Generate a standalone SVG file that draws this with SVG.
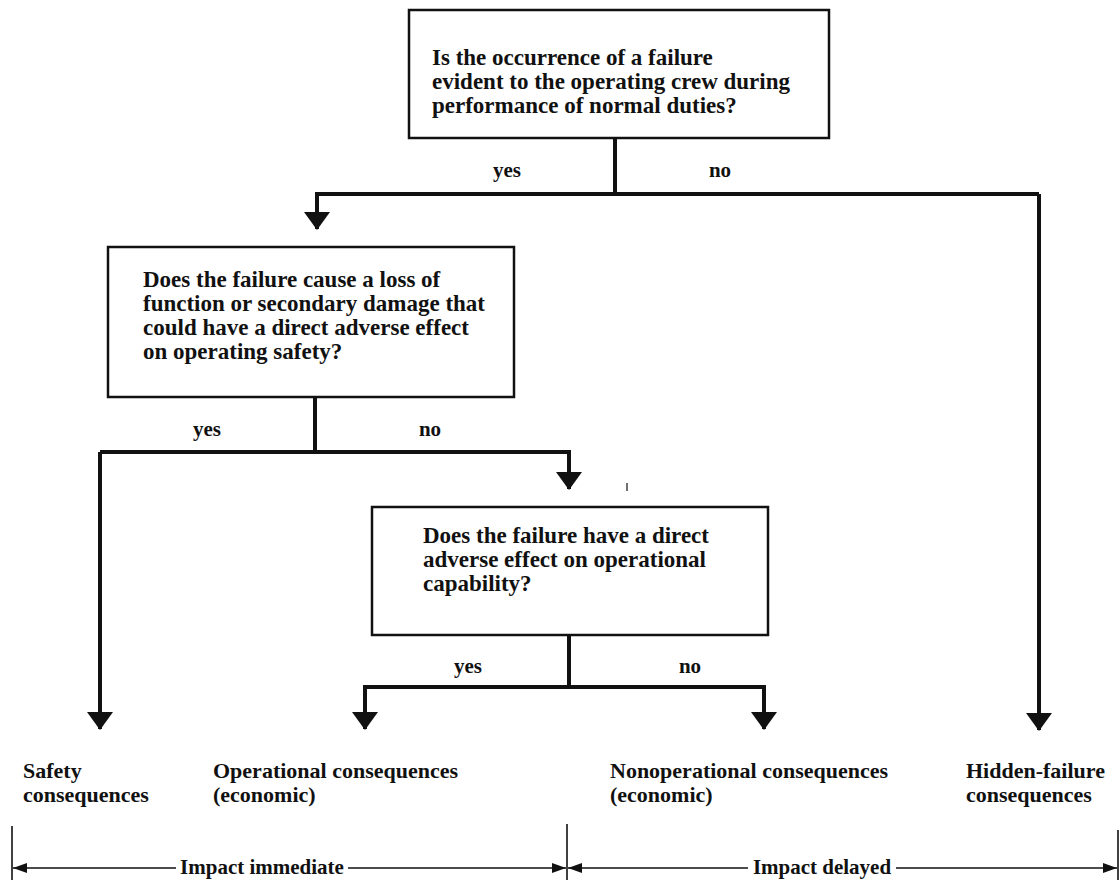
<svg xmlns="http://www.w3.org/2000/svg" width="1120" height="880" viewBox="0 0 1120 880">
<defs>
<style>
text{font-family:"Liberation Serif","Times New Roman",serif;font-weight:bold;fill:#111;}
.t{font-size:23px;}
.b{font-size:22px;}
.l{font-size:21px;}
.c{text-anchor:middle;}
.box{fill:#fff;stroke:#111;stroke-width:2.5;}
.con{fill:none;stroke:#111;stroke-width:4;stroke-linejoin:miter;}
.thin{fill:none;stroke:#111;stroke-width:1.6;}
</style>
<marker id="ah" markerUnits="userSpaceOnUse" markerWidth="26" markerHeight="20" refX="13" refY="17" orient="0" viewBox="0 0 26 20">
<path d="M0,0 L26,0 L13,18 Z" fill="#111"/>
</marker>
<marker id="sa" markerUnits="userSpaceOnUse" markerWidth="14" markerHeight="10" refX="14" refY="5" orient="auto" viewBox="0 0 14 10">
<path d="M0,0 L14,5 L0,10 Z" fill="#111"/>
</marker>
</defs>
<rect width="1120" height="880" fill="#fff"/>

<g id="connectors">
<path class="con" d="M615,138 V194"/>
<path class="con" d="M1039,194 H317 V229" marker-end="url(#ah)"/>
<path class="con" d="M1039,194 V730" marker-end="url(#ah)"/>
<path class="con" d="M315,397 V452"/>
<path class="con" d="M100,452 H569 V489" marker-end="url(#ah)"/>
<path class="con" d="M100,452 V729" marker-end="url(#ah)"/>
<path class="con" d="M569,635 V687"/>
<path class="con" d="M365,729 V687 H764 V729" marker-end="url(#ah)"/>
<path class="con" d="M365,687 V729" marker-end="url(#ah)"/>
<path class="thin" d="M627,483 V491" style="stroke-width:1.2"/>
<text class="l c" x="507" y="177">yes</text>
<text class="l c" x="720" y="177">no</text>
<text class="l c" x="207" y="436">yes</text>
<text class="l c" x="430" y="436">no</text>
<text class="l c" x="468" y="673">yes</text>
<text class="l c" x="690" y="673">no</text>
</g>

<g id="q1">
<rect class="box" x="409" y="10" width="420" height="128"/>
<text class="t" x="432" y="65">Is the occurrence of a failure</text>
<text class="t" x="432" y="89">evident to the operating crew during</text>
<text class="t" x="432" y="113">performance of normal duties?</text>
</g>

<g id="q2">
<rect class="box" x="108" y="247" width="406" height="150"/>
<text class="t" x="143" y="287">Does the failure cause a loss of</text>
<text class="t" x="143" y="311">function or secondary damage that</text>
<text class="t" x="143" y="335">could have a direct adverse effect</text>
<text class="t" x="143" y="359">on operating safety?</text>
</g>

<g id="q3">
<rect class="box" x="372" y="507" width="396" height="128"/>
<text class="t" x="423" y="543">Does the failure have a direct</text>
<text class="t" x="423" y="567">adverse effect on operational</text>
<text class="t" x="423" y="591">capability?</text>
</g>

<g id="safety">
<text class="b" x="23" y="778">Safety</text>
<text class="b" x="23" y="802">consequences</text>
</g>
<g id="operational">
<text class="b" x="213" y="778">Operational consequences</text>
<text class="b" x="213" y="802">(economic)</text>
</g>
<g id="nonoperational">
<text class="b" x="610" y="778">Nonoperational consequences</text>
<text class="b" x="610" y="802">(economic)</text>
</g>
<g id="hidden">
<text class="b" x="966" y="778">Hidden-failure</text>
<text class="b" x="966" y="802">consequences</text>
</g>

<g id="impact">
<path class="thin" d="M12,826 V880"/>
<path class="thin" d="M567,824 V880"/>
<path class="thin" d="M1118,830 V880"/>
<path class="thin" d="M176,868 H13" marker-end="url(#sa)"/>
<path class="thin" d="M348,868 H566" marker-end="url(#sa)"/>
<path class="thin" d="M748,868 H568" marker-end="url(#sa)"/>
<path class="thin" d="M896,868 H1117" marker-end="url(#sa)"/>
<text class="l c" x="262" y="874">Impact immediate</text>
<text class="l c" x="822" y="874">Impact delayed</text>
</g>
</svg>
